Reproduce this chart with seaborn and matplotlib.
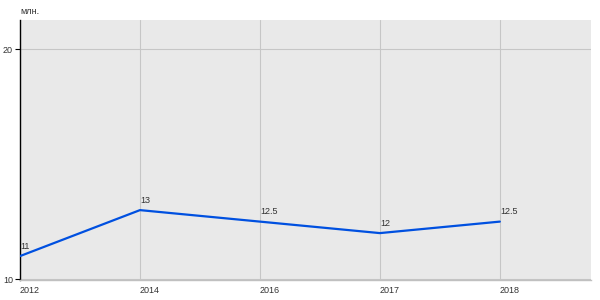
import matplotlib
matplotlib.use("Agg")
import matplotlib.pyplot as plt
import seaborn as sns
import pandas as pd

years = ["2012", "2014", "2016", "2017", "2018"]
values = [11, 13, 12.5, 12, 12.5]
value_labels = ["11", "13", "12.5", "12", "12.5"]
y_ticks = [10, 20]
unit_label = "млн."

sns.set_theme(style="white")
plt.rcParams["font.family"] = ["Liberation Sans", "DejaVu Sans"]

df = pd.DataFrame({"idx": list(range(len(years))), "value": values})

fig = plt.figure(figsize=(6, 3), dpi=100)
ax = fig.add_axes([20 / 600, 20 / 300, 571 / 600, 260 / 300])
ax.set_facecolor("#e9e9e9")

sns.lineplot(data=df, x="idx", y="value", ax=ax, color="#0050e0", linewidth=1.6, zorder=3)

ax.set_xlim(0, 4.76)
ax.set_ylim(9.96, 21.27)

ax.set_xticks(df["idx"])
ax.set_xticklabels(years, ha="left")
ax.set_yticks(y_ticks)
ax.set_yticklabels([str(t) for t in y_ticks])

ax.grid(True, color="#c6c6c6", linewidth=0.8, zorder=0)
ax.set_axisbelow(True)

ax.tick_params(axis="x", length=0, pad=4, labelsize=6.5, labelcolor="#333333")
ax.tick_params(axis="y", length=3.5, width=0.8, color="black", pad=1.5, labelsize=6.5, labelcolor="#333333", left=True)

for s in ["top", "right"]:
    ax.spines[s].set_visible(False)
ax.spines["left"].set_color("black")
ax.spines["left"].set_linewidth(1.0)
ax.spines["bottom"].set_color("#c0c0c0")
ax.spines["bottom"].set_linewidth(1.0)

ax.set_xlabel("")
ax.set_ylabel("")

for i, (v, lab) in enumerate(zip(values, value_labels)):
    ax.annotate(lab, (i, v), xytext=(0, 4), textcoords="offset points",
                ha="left", va="bottom", fontsize=6.5, color="#333333")

fig.text(20 / 600, 1 - 12 / 300, unit_label, ha="left", va="center", fontsize=6.5, color="#333333")

fig.savefig("out.png", dpi=100)
